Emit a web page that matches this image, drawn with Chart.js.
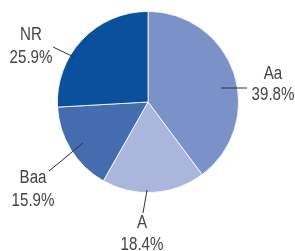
<!DOCTYPE html>
<html>
<head>
<meta charset="utf-8">
<script src="https://cdn.jsdelivr.net/npm/chart.js@4"></script>
<style>
  html, body { margin: 0; padding: 0; background: #fff; }
  #wrap { width: 295px; height: 251px; }
</style>
</head>
<body>
<div id="wrap"><canvas id="chartCanvas" width="295" height="251"></canvas></div>
<script>
// chart data
const categories = ['Aa', 'A', 'Baa', 'NR'];
const shares = [39.8, 18.4, 15.9, 25.9];
const sliceColors = ['#7a92c8', '#aab6dc', '#466cb0', '#0a509c'];

// where each label + leader line goes, offsets from the pie centre (px)
const labelLayout = [
    { line: [73, -14, 99, -14], text: [125, -23, -2] },
    { line: [-1, 88, -5, 111], text: [-6, 126, 148] },
    { line: [-65, 41, -99, 69], text: [-115, 81, 104] },
    { line: [-74, -45, -95, -55], text: [-117, -62, -39] }
];

// no narrow font installed, so squeeze the text horizontally
function narrowText(ctx, str, x, y) {
    ctx.save();
    ctx.translate(x, y);
    ctx.scale(0.84, 1);
    ctx.fillText(str, 0, 0);
    ctx.restore();
}

const calloutPlugin = {
    id: 'callouts',
    afterDatasetsDraw(chart) {
        const ctx = chart.ctx;
        const meta = chart.getDatasetMeta(0);
        ctx.save();
        ctx.strokeStyle = '#333';
        ctx.lineWidth = 1;
        ctx.fillStyle = '#444';
        ctx.font = '18px "Liberation Sans Narrow", "Liberation Sans", sans-serif';
        ctx.textAlign = 'center';
        ctx.textBaseline = 'alphabetic';
        meta.data.forEach((arc, i) => {
            const cx = arc.x, cy = arc.y;
            const lay = labelLayout[i];
            ctx.beginPath();
            ctx.moveTo(cx + lay.line[0], cy + lay.line[1]);
            ctx.lineTo(cx + lay.line[2], cy + lay.line[3]);
            ctx.stroke();
            narrowText(ctx, categories[i], cx + lay.text[0], cy + lay.text[1]);
            narrowText(ctx, shares[i].toFixed(1) + '%', cx + lay.text[0], cy + lay.text[2]);
        });
        ctx.restore();
    }
};

const ctx = document.getElementById('chartCanvas').getContext('2d');
new Chart(ctx, {
    type: 'pie',
    data: {
        labels: categories,
        datasets: [{
            data: shares,
            backgroundColor: sliceColors,
            borderColor: '#ffffff',
            borderWidth: 0.8
        }]
    },
    options: {
        responsive: false,
        animation: false,
        layout: { padding: { left: 57, right: 56, top: 11, bottom: 58 } },
        plugins: {
            legend: { display: false },
            tooltip: { enabled: false }
        }
    },
    plugins: [calloutPlugin]
});
</script>
</body>
</html>
